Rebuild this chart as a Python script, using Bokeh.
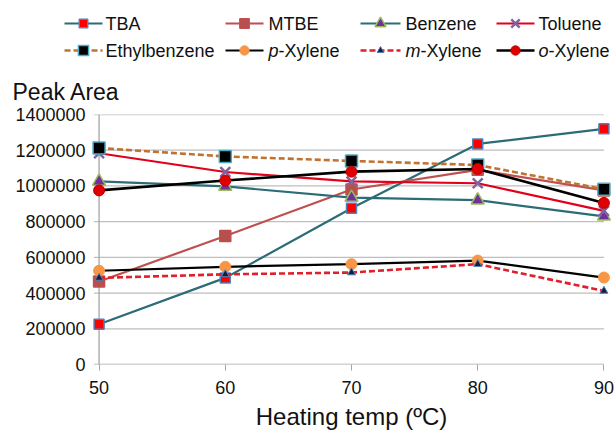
from bokeh.plotting import figure
from bokeh.models import Range1d, FixedTicker, NumeralTickFormatter
from bokeh.core.properties import value
from bokeh.embed import file_html
from bokeh.resources import INLINE

# ---------------- data ----------------
temps = [50, 60, 70, 80, 90]
x_ticks = [50, 60, 70, 80, 90]
y_ticks = [0, 200000, 400000, 600000, 800000, 1000000, 1200000, 1400000]

tba = [225000, 485000, 875000, 1235000, 1320000]
mtbe = [465000, 720000, 980000, 1090000, 975000]
benzene = [1025000, 997000, 935000, 920000, 830000]
toluene = [1183000, 1078000, 1025000, 1015000, 860000]
ethylbenzene = [1212000, 1165000, 1140000, 1117000, 982000]
p_xylene = [525000, 547000, 562000, 582000, 487000]
m_xylene = [485000, 505000, 515000, 562000, 412000]
o_xylene = [975000, 1030000, 1080000, 1095000, 905000]

names = ["TBA", "MTBE", "Benzene", "Toluene", "Ethylbenzene", "p-Xylene", "m-Xylene", "o-Xylene"]
series = [tba, mtbe, benzene, toluene, ethylbenzene, p_xylene, m_xylene, o_xylene]

FONT = "Liberation Sans"

styles = {
    "TBA":          dict(lc="#2B6C77", dash="solid", lw=2.2, m="square",   fc="#FF0000", ec="#4F81BD", s=10, mw=1.5),
    "MTBE":         dict(lc="#BE5150", dash="solid", lw=2.2, m="square",   fc="#B5504E", ec="#C0504D", s=11, mw=1.5),
    "Benzene":      dict(lc="#2B6C77", dash="solid", lw=2.2, m="triangle", fc="#7030A0", ec="#9BBB59", s=13, mw=1.5),
    "Toluene":      dict(lc="#E3001B", dash="solid", lw=2.2, m="x",        fc="#8064A2", ec="#8064A2", s=14, mw=2.5),
    "Ethylbenzene": dict(lc="#C0732F", dash="6 3",   lw=2.6, m="square",   fc="#000000", ec="#4BACC6", s=12, mw=1.5),
    "p-Xylene":     dict(lc="#000000", dash="solid", lw=2.2, m="circle",   fc="#F79646", ec="#F79646", s=11, mw=1),
    "m-Xylene":     dict(lc="#E0202A", dash="6 3",   lw=2.6, m="triangle", fc="#1A1A3A", ec="#4F81BD", s=8,  mw=1),
    "o-Xylene":     dict(lc="#000000", dash="solid", lw=2.6, m="circle",   fc="#E00000", ec="#C00000", s=11, mw=1),
}

# ---------------- legend / header figure ----------------
LH = 105
lg = figure(width=616, height=LH, x_range=Range1d(0, 616), y_range=Range1d(LH, 0),
            x_axis_type=None, y_axis_type=None,
            toolbar_location=None, output_backend="svg",
            min_border_left=0, min_border_right=0, min_border_top=0, min_border_bottom=0)
lg.grid.visible = False
lg.outline_line_color = None

col_x0 = [64, 225, 360, 496]
col_x1 = [102, 263, 400, 534]
col_tx = [105, 268, 405, 538]
row_y = [23, 50]

for i, name in enumerate(names):
    st = styles[name]
    r, c = divmod(i, 4)
    y = row_y[r]
    lg.line([col_x0[c], col_x1[c]], [y, y], line_color=st["lc"], line_width=st["lw"], line_dash=st["dash"])
    lg.scatter([(col_x0[c] + col_x1[c]) / 2], [y], marker=st["m"], size=st["s"] * 0.85,
               fill_color=st["fc"], line_color=st["ec"], line_width=st["mw"])
    if name[1] == "-":
        prefix, rest = name[0], name[1:]
        pw = {"p": 10.0, "m": 15.0, "o": 10.0}[prefix]
        lg.text([col_tx[c]], [y], text=[prefix], text_font=value(FONT), text_font_size="18px",
                text_font_style="italic", text_baseline="middle", text_align="left", text_color="#111111")
        lg.text([col_tx[c] + pw], [y], text=[rest], text_font=value(FONT), text_font_size="18px",
                text_baseline="middle", text_align="left", text_color="#111111")
    else:
        lg.text([col_tx[c]], [y], text=[name], text_font=value(FONT), text_font_size="18px",
                text_baseline="middle", text_align="left", text_color="#111111")

lg.text([12], [91], text=["Peak Area"], text_font=value(FONT), text_font_size="23px",
        text_baseline="middle", text_align="left", text_color="#111111")

# ---------------- main figure ----------------
p = figure(width=616, height=434 - LH, x_range=Range1d(49.4, 90.6), y_range=Range1d(0, 1400000),
           toolbar_location=None, output_backend="svg",
           min_border_left=91, min_border_right=5, min_border_top=9, min_border_bottom=70)
p.outline_line_color = None
p.xgrid.visible = False
p.ygrid.visible = False

grid_y = y_ticks[1:]
p.segment(x0=[49.6] * len(grid_y), x1=[90] * len(grid_y), y0=grid_y, y1=grid_y,
          line_color="#BEBEBE", line_width=1.3)
p.segment(x0=[49.6], x1=[90], y0=[0], y1=[0], line_color="#A6A6A6", line_width=1.3)
p.segment(x0=[50], x1=[50], y0=[0], y1=[1400000], line_color="#A6A6A6", line_width=1.3)

for name, vals in zip(names, series):
    st = styles[name]
    p.line(temps, vals, line_color=st["lc"], line_width=st["lw"], line_dash=st["dash"])
    p.scatter(temps, vals, marker=st["m"], size=st["s"], fill_color=st["fc"],
              line_color=st["ec"], line_width=st["mw"])

p.xaxis.ticker = FixedTicker(ticks=x_ticks)
p.yaxis.ticker = FixedTicker(ticks=y_ticks)
p.yaxis.formatter = NumeralTickFormatter(format="0")
p.xaxis.minor_tick_line_color = None
p.yaxis.minor_tick_line_color = None
p.xaxis.axis_line_color = None
p.yaxis.axis_line_color = None
p.xaxis.major_tick_line_color = "#A6A6A6"
p.xaxis.major_tick_out = 6
p.xaxis.major_tick_in = 0
p.yaxis.major_tick_out = 0
p.yaxis.major_tick_in = 0
p.axis.major_label_text_font = FONT
p.axis.major_label_text_font_size = "18px"
p.axis.major_label_text_color = "#111111"
p.xaxis.major_label_standoff = 10
p.yaxis.major_label_standoff = 6
p.xaxis.axis_label = "Heating temp (\u00baC)"
p.xaxis.axis_label_text_font = FONT
p.xaxis.axis_label_text_font_size = "24px"
p.xaxis.axis_label_text_font_style = "normal"
p.xaxis.axis_label_text_color = "#111111"
p.xaxis.axis_label_standoff = 6

open("out.html", "w").write(file_html([lg, p], INLINE))
